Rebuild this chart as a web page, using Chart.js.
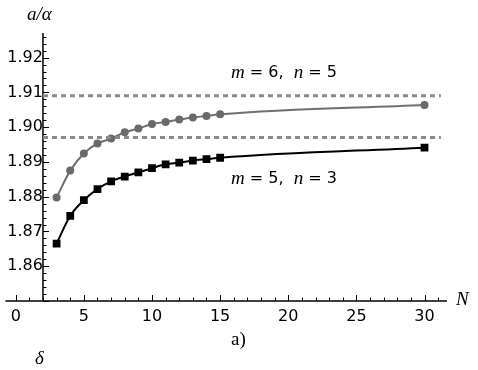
<!DOCTYPE html>
<html>
<head>
<meta charset="utf-8">
<script src="https://cdn.jsdelivr.net/npm/chart.js@4.4.1/dist/chart.umd.min.js"></script>
<style>
  html, body { margin: 0; padding: 0; background: #fff; }
  #wrap { width: 478px; height: 370px; }
</style>
</head>
<body>
<div id="wrap"><canvas id="plot" width="478" height="370"></canvas></div>
<script>
// values
const nValues = [3, 4, 5, 6, 7, 8, 9, 10, 11, 12, 13, 14, 15, 30];
const seriesM6N5 = [1.8798, 1.8875, 1.8924, 1.8953, 1.8967, 1.8985, 1.8996, 1.9009, 1.9015, 1.9022, 1.9028, 1.9032, 1.9037, 1.9064];
const seriesM5N3 = [1.8665, 1.8745, 1.8790, 1.8822, 1.8844, 1.8858, 1.8870, 1.8882, 1.8893, 1.8898, 1.8904, 1.8908, 1.8912, 1.8941];
const limitM6N5 = 1.909;
const limitM5N3 = 1.897;
const limitSpan = [2, 31.2];
const xTicks = [0, 5, 10, 15, 20, 25, 30];
const yTicks = [1.86, 1.87, 1.88, 1.89, 1.90, 1.91, 1.92];
const axisOrigin = { x: 2, y: 1.85 };

const pts = (xs, ys) => xs.map((x, i) => ({ x: x, y: ys[i] }));
const flat = (v) => limitSpan.map(x => ({ x: x, y: v }));

const numFont = { family: 'DejaVu Sans', size: 16 };

// axes in Mathematica style: crossing at origin, ticks pointing inward
const axesPlugin = {
  id: 'axesPlugin',
  beforeDatasetsDraw(chart) {
    const { ctx, chartArea: a, scales: { x, y } } = chart;
    const x0 = x.getPixelForValue(axisOrigin.x);
    const y0 = y.getPixelForValue(axisOrigin.y);
    ctx.save();
    ctx.strokeStyle = '#000';
    ctx.lineWidth = 1.5;
    ctx.beginPath();
    ctx.moveTo(a.left, y0); ctx.lineTo(a.right, y0);
    ctx.moveTo(x0, a.bottom); ctx.lineTo(x0, a.top - 2);
    ctx.stroke();
    ctx.lineWidth = 1;
    ctx.beginPath();
    for (let n = Math.ceil(x.min); n <= x.max; n++) {
      const px = Math.round(x.getPixelForValue(n)) + 0.5;
      const len = n % 5 === 0 ? 6 : 3.5;
      ctx.moveTo(px, y0); ctx.lineTo(px, y0 - len);
    }
    for (let k = Math.ceil(y.min / 0.002 - 1e-6); k * 0.002 <= y.max; k++) {
      const v = k * 0.002;
      const py = Math.round(y.getPixelForValue(v)) + 0.5;
      const major = Math.abs(v * 100 - Math.round(v * 100)) < 1e-6;
      ctx.moveTo(x0, py); ctx.lineTo(x0 + (major ? 6 : 3.5), py);
    }
    ctx.stroke();
    ctx.restore();
  },
  afterDraw(chart) {
    const { ctx } = chart;
    ctx.save();
    ctx.fillStyle = '#000';
    ctx.textBaseline = 'middle';

    const seg = (parts, x, yy) => {
      let cx = x;
      parts.forEach(([txt, font]) => {
        ctx.font = font;
        ctx.fillText(txt, cx, yy);
        cx += ctx.measureText(txt).width;
      });
    };
    const it = 'italic 19px "Liberation Serif"';
    const up = '16px "DejaVu Sans"';
    seg([['m', it], [' = 6,  ', up], ['n', it], [' = 5', up]], 231, 73);
    seg([['m', it], [' = 5,  ', up], ['n', it], [' = 3', up]], 231, 179);

    ctx.font = 'italic 19px "Liberation Serif"';
    ctx.fillText('a/\u03b1', 27, 15);
    ctx.fillText('N', 456, 300);
    ctx.fillText('\u03b4', 35, 359);
    ctx.font = '19px "Liberation Serif"';
    ctx.fillText('a)', 231, 340);
    ctx.restore();
  }
};

new Chart(document.getElementById('plot'), {
  type: 'line',
  data: {
    datasets: [
      {
        label: 'limit m=6, n=5',
        data: flat(limitM6N5),
        borderColor: '#8a8a8a',
        borderWidth: 3,
        borderDash: [5, 4],
        pointRadius: 0
      },
      {
        label: 'limit m=5, n=3',
        data: flat(limitM5N3),
        borderColor: '#8a8a8a',
        borderWidth: 3,
        borderDash: [5, 4],
        pointRadius: 0
      },
      {
        label: 'm=6, n=5',
        data: pts(nValues, seriesM6N5),
        borderColor: '#6f6f6f',
        backgroundColor: '#6a6a6a',
        borderWidth: 2,
        cubicInterpolationMode: 'monotone',
        pointStyle: 'circle',
        pointRadius: 4,
        pointBorderWidth: 0
      },
      {
        label: 'm=5, n=3',
        data: pts(nValues, seriesM5N3),
        borderColor: '#000',
        backgroundColor: '#000',
        borderWidth: 2,
        cubicInterpolationMode: 'monotone',
        pointStyle: 'rect',
        pointRadius: 5.5,
        pointBorderWidth: 0
      }
    ]
  },
  options: {
    responsive: false,
    animation: false,
    layout: { padding: { left: 3, right: 31, top: 35, bottom: 39 } },
    plugins: { legend: { display: false }, tooltip: { enabled: false } },
    scales: {
      x: {
        type: 'linear',
        min: -0.75,
        max: 31.65,
        grid: { display: false, drawTicks: false },
        border: { display: false },
        afterBuildTicks: s => { s.ticks = xTicks.map(v => ({ value: v })); },
        afterFit: s => { s.height = 30; },
        ticks: { color: '#000', font: numFont, padding: 6, maxRotation: 0, autoSkip: false }
      },
      y: {
        type: 'linear',
        position: { x: axisOrigin.x },
        min: 1.85,
        max: 1.9265,
        grid: { display: false, drawTicks: false },
        border: { display: false },
        afterBuildTicks: s => { s.ticks = yTicks.map(v => ({ value: v })); },
        ticks: { color: '#000', font: numFont, padding: 4, autoSkip: false, callback: v => v.toFixed(2) }
      }
    }
  },
  plugins: [axesPlugin]
});
</script>
</body>
</html>
